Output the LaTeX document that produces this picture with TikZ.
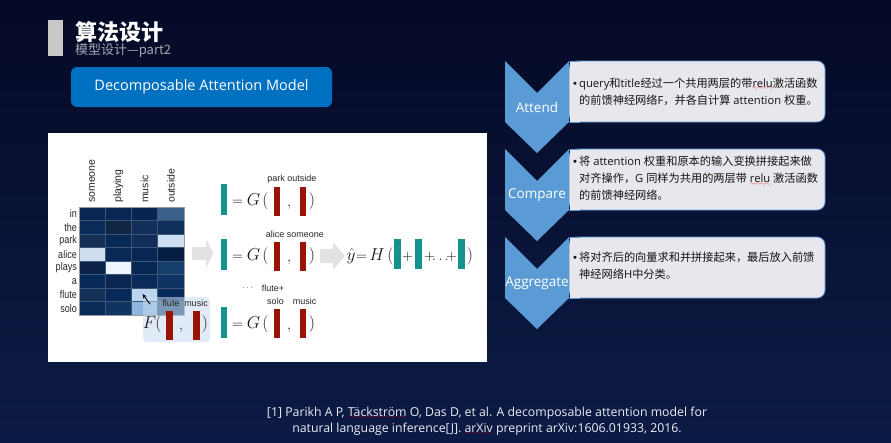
\documentclass[tikz,border=0pt]{standalone}
\usepackage[no-math]{fontspec}
\usepackage{graphicx}
\usetikzlibrary{arrows.meta}
\setmainfont{Liberation Sans}
\newfontfamily\cjk{Noto Sans CJK SC}
\newfontfamily\lat{Open Sans}

\definecolor{bgtop}{HTML}{050A26}
\definecolor{bgbot}{HTML}{0C1B45}
\definecolor{chev}{HTML}{5B9BD5}
\definecolor{boxfill}{HTML}{E7E7ED}
\definecolor{btnblue}{HTML}{0070C0}
\definecolor{vecteal}{HTML}{14928F}
\definecolor{vecred}{HTML}{9A1405}
\definecolor{subgray}{HTML}{A6A8B0}
\definecolor{bargray}{HTML}{C8C8C8}
\definecolor{blockarrow}{HTML}{E2E2E2}
\definecolor{gridline}{RGB}{60,86,122}
\definecolor{fpanel}{RGB}{200,220,242}
\definecolor{foottext}{HTML}{ECECF2}

% red wavy spell-check underline
\font\wavefont=lasy6
\newcommand\spellmark[1]{\setbox0=\hbox{#1}\leavevmode\rlap{\lower2.4pt\hbox to \wd0{\color{red}\xleaders\hbox{\wavefont\char58}\hfil}}\box0\relax}
% bullet of the description boxes
\newcommand\bul{\makebox[6pt][l]{\rmfamily •}}

\begin{document}
\begin{tikzpicture}[x=1pt,y=-1pt,
  descbox/.style={draw=chev, line width=0.8pt, fill=boxfill, rounded corners=8pt,
    minimum width=256pt, minimum height=61pt, inner sep=0pt},
  desctext/.style={anchor=west, inner sep=0pt, align=left, text=black!92,
    font=\cjk\fontsize{11.2}{17}\selectfont},
  chevlabel/.style={inner sep=0pt, text=white, font=\lat\fontsize{13.5}{13.5}\selectfont},
  rowlab/.style={anchor=east, inner sep=0pt, text=black!85, font=\fontsize{11}{11}\selectfont},
  collab/.style={anchor=west, rotate=90, inner sep=0pt, text=black!85, font=\fontsize{10.5}{10.5}\selectfont},
  veclab/.style={inner sep=0pt, text=black!85, font=\fontsize{9}{9}\selectfont},
  eqtxt/.style={inner sep=0pt, anchor=base, text=black!90, font=\fontsize{18}{18}\selectfont},
  eqop/.style={inner sep=0pt, anchor=base, text=black!90, font=\fontsize{14}{14}\selectfont},
  tealbar/.style={fill=vecteal, minimum width=6.5pt, minimum height=31pt, inner sep=0pt},
  redbar/.style={fill=vecred, minimum width=6.5pt, minimum height=29pt, inner sep=0pt},
  foot/.style={inner sep=0pt, text=foottext, font=\lat\fontsize{12.3}{12.3}\selectfont},
]
% background
\shade[top color=bgtop, bottom color=bgbot] (0,0) rectangle (891,442);
\useasboundingbox (0,0) rectangle (891,442);

% heading
\fill[bargray] (48,20) rectangle (63,56);
\node[anchor=base west, inner sep=0pt, text=white, font=\cjk\bfseries\fontsize{22}{22}\selectfont] (title) at (75,40) {算法设计};
\node[anchor=base west, inner sep=0pt, text=subgray, font=\cjk\fontsize{13}{13}\selectfont] (subtitle) at (75,54) {模型设计—part2};

% model name button
\node[fill=btnblue, rounded corners=6pt, minimum width=261pt, minimum height=40pt, inner sep=0pt,
  text=white, font=\lat\fontsize{14.5}{14.5}\selectfont] (model) at (201.5,87) {Decomposable Attention Model};

% white figure panel
\node[fill=white, minimum width=439pt, minimum height=229pt, inner sep=0pt, anchor=north west] (panel) at (48,133) {};

% attention heat map
\foreach \r/\c/\R/\G/\B in {
  0/0/8/38/84, 0/1/8/38/84, 0/2/8/36/80, 0/3/58/96/140,
  1/0/10/42/88, 1/1/16/38/68, 1/2/20/46/90, 1/3/15/48/92,
  2/0/20/46/84, 2/1/8/40/86, 2/2/18/46/88, 2/3/205/222/240,
  3/0/205/222/238, 3/1/8/40/86, 3/2/8/38/84, 3/3/6/30/66,
  4/0/12/34/70, 4/1/238/245/253, 4/2/8/38/82, 4/3/22/62/108,
  5/0/8/42/90, 5/1/10/38/80, 5/2/10/42/90, 5/3/14/52/100,
  6/0/20/48/86, 6/1/8/40/88, 6/2/188/212/238, 6/3/10/44/92,
  7/0/10/42/88, 7/1/16/52/98, 7/2/142/182/222, 7/3/28/68/112}{
  \definecolor{cellc}{RGB}{\R,\G,\B}
  \fill[cellc] ({79+26.25*\c},{207+13.5*\r}) rectangle ++(26.25,13.5);
}
\foreach \i in {1,...,3} \draw[gridline, line width=0.6pt] ({79+26.25*\i},207) -- ({79+26.25*\i},315);
\foreach \j in {1,...,7} \draw[gridline, line width=0.6pt] (79,{207+13.5*\j}) -- (184,{207+13.5*\j});
\draw[gray!80, line width=0.6pt] (79,207) rectangle (184,315);

\foreach \w [count=\k from 0] in {in,the,park,alice,plays,a,flute,solo}
  \node[rowlab] (row\k) at (77,{207+13.5*(\k+0.5)}) {\scalebox{0.82}[1]{\w}};
\foreach \w [count=\k from 0] in {someone,playing,music,outside}
  \node[collab] (col\k) at ({79+26.25*(\k+0.5)},203) {\w};

% F( , ) inset
\node[fill=fpanel, fill opacity=0.55, rounded corners=4pt, minimum width=67pt, minimum height=45pt,
  inner sep=0pt, anchor=north west] (fbox) at (143,297) {};
\coordinate (ptrtail) at (150,304);
\coordinate (ptrhead) at (142.5,294);
\draw[-{Stealth[length=4.5pt,width=4pt]}, line width=0.9pt, black] (ptrtail) -- (ptrhead);
\node[eqtxt] (fF) at (149.5,328) {$F$};
\node[eqtxt] (flp) at (158.5,328) {$($};
\node[redbar] (fr1) at (169.5,325) {};
\node[eqop] (fcm) at (181,329) {$,$};
\node[redbar] (fr2) at (196.5,325) {};
\node[eqtxt] (frp) at (205,328) {$)$};
\node[veclab] (flute) at (171,303) {flute};
\node[veclab] (music) at (196,303) {music};

% block arrows
\fill[blockarrow] (192,247) -- (206,247) -- (206,239) -- (213.5,253.5) -- (206,268) -- (206,260) -- (192,260) -- cycle;
\fill[blockarrow] (320,249) -- (333,249) -- (333,242) -- (345,256) -- (333,270) -- (333,263) -- (320,263) -- cycle;

% G( , ) rows
\foreach \k/\tb/\rb/\bl in {1/199/201/205, 2/254.5/256/260, 3/322.5/323/328}{
  \node[tealbar] (teal\k) at (224,\tb) {};
  \node[eqop] (eq\k) at (237.5,\bl) {$=$};
  \node[eqtxt] (G\k) at (253.5,\bl) {$G$};
  \node[eqtxt] (lp\k) at (265.5,\bl) {$($};
  \node[redbar] (ra\k) at (277,\rb) {};
  \node[eqop] (cm\k) at (289,{\bl+1}) {$,$};
  \node[redbar] (rb\k) at (303,\rb) {};
  \node[eqtxt] (rp\k) at (312,\bl) {$)$};
}
\node[veclab] (lab1) at (292,179) {park outside};
\node[veclab] (lab2) at (295,234) {alice someone};
\node[veclab] (dots) at (247.5,288) {$\cdots$};
\node[veclab] (lab3) at (273,288) {flute+};
\node[veclab] (lab4) at (275.5,301) {solo};
\node[veclab] (lab5) at (304.5,301) {music};

% aggregation H( + + ... + )
\node[eqtxt] (yhat) at (351,260) {$\hat{y}$};
\node[eqop] (heq) at (361.5,260) {$=$};
\node[eqtxt] (hH) at (377,260) {$H$};
\node[eqtxt] (hlp) at (390.5,260) {$($};
\node[tealbar, minimum height=30pt] (h1) at (397.5,254) {};
\node[eqop] (hp1) at (407.5,260) {$+$};
\node[tealbar, minimum height=30pt] (h2) at (418.5,254) {};
\node[eqop] (hp2) at (429.5,260) {$+$};
\node[eqop] (hdots) at (440.5,260) {$\ldots$};
\node[eqop] (hp3) at (451.5,260) {$+$};
\node[tealbar, minimum height=30pt] (h3) at (461.5,254) {};
\node[eqtxt] (hrp) at (470,260) {$)$};

% step chevrons with description boxes
\foreach \i/\nm in {0/attend,1/compare,2/aggregate}{
  \pgfmathsetmacro\ytop{61+88*\i}
  \node[descbox] (\nm-box) at (697,{\ytop+30.5}) {};
  \fill[boxfill] (569.5,{\ytop+0.4}) rectangle (580,{\ytop+60.6});
  \draw[chev, line width=0.8pt] (569,\ytop) -- (580,\ytop) (569,{\ytop+61}) -- (580,{\ytop+61});
  \fill[chev] (505,\ytop) -- (537,{\ytop+32}) -- (569,\ytop) -- (569,{\ytop+61})
    -- (537,{\ytop+92}) -- (505,{\ytop+61}) -- cycle;
}
\node[chevlabel] (attend) at (537,107) {Attend};
\node[chevlabel] (compare) at (537,195) {Compare};
\node[chevlabel] (aggregate) at (537,283) {Aggregate};

\node[desctext] (attend-txt) at (573,91.5) {\bul{\lat query}和{\lat title}经过一个共用两层的带{\lat\spellmark{relu}}激活函数\\
\hspace*{6pt}的前馈神经网络{\lat F}，并各自计算{\lat\ attention }权重。};
\node[desctext] (compare-txt) at (573,178.5) {\bul 将{\lat\ attention }权重和原本的输入变换拼接起来做\\
\hspace*{6pt}对齐操作，{\lat G }同样为共用的两层带{\lat\ \spellmark{relu}\ }激活函数\\
\hspace*{6pt}的前馈神经网络。};
\node[desctext] (aggregate-txt) at (573,266) {\bul 将对齐后的向量求和并拼接起来，最后放入前馈\\
\hspace*{6pt}神经网络{\lat H}中分类。};

% reference
\node[foot] (ref1) at (487,413) {[1] Parikh A P, \spellmark{Täckström} O, Das D, et al. A decomposable attention model for};
\node[foot] (ref2) at (487,429) {natural language inference[J]. \spellmark{arXiv} preprint arXiv:1606.01933, 2016.};
\end{tikzpicture}
\end{document}
